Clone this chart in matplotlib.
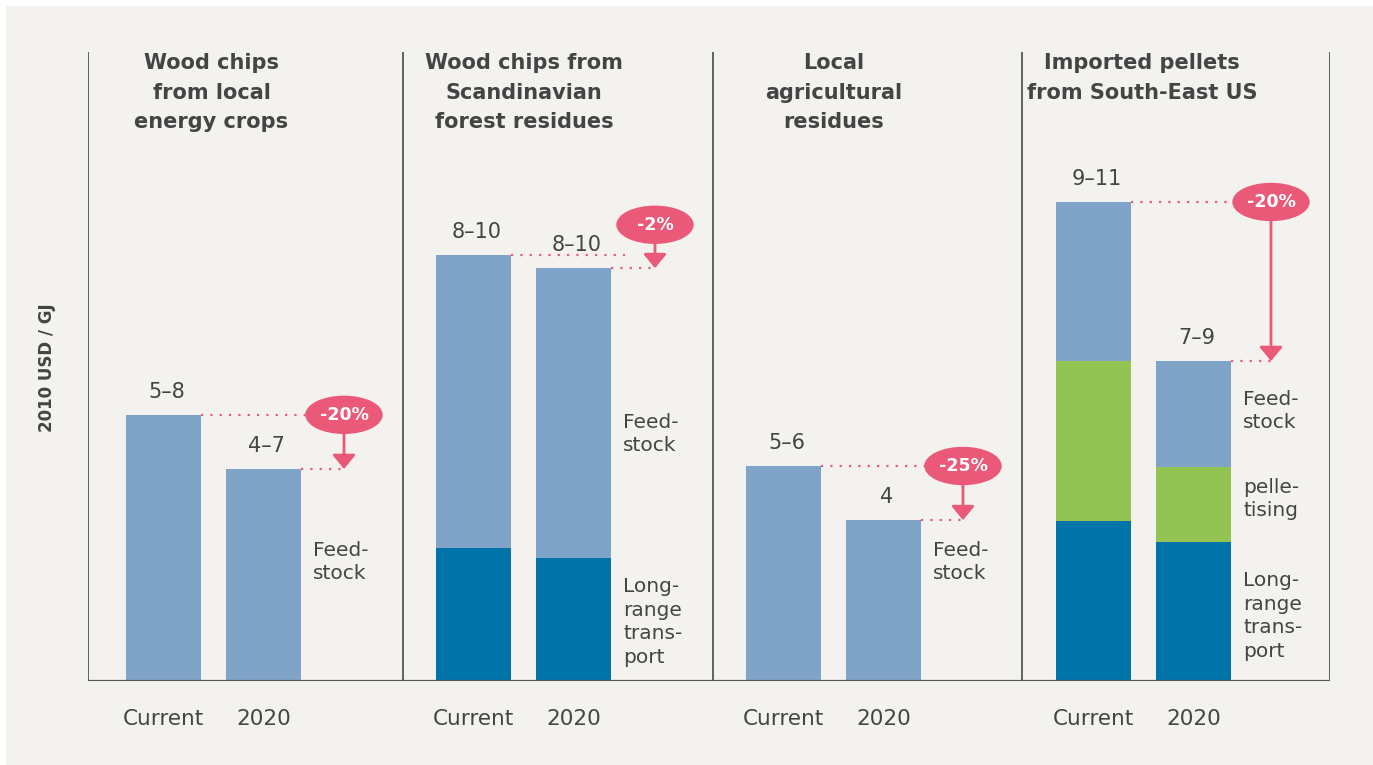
import matplotlib
matplotlib.use("Agg")
import matplotlib.pyplot as plt
from matplotlib.patches import Ellipse, Rectangle

# -----------------------------
# Data (2010 USD/GJ)
# -----------------------------
titles = [
    "Wood chips\nfrom local\nenergy crops",
    "Wood chips from\nScandinavian\nforest residues",
    "Local\nagricultural\nresidues",
    "Imported pellets\nfrom South-East US",
]
bar_labels = ["Current", "2020"]
range_labels = [["5–8", "4–7"], ["8–10", "8–10"], ["5–6", "4"], ["9–11", "7–9"]]
changes = ["-20%", "-2%", "-25%", "-20%"]

# segments stacked bottom -> top: long-range transport, pelletising, feedstock
transport = [[0, 0], [3.09, 2.86], [0, 0], [3.72, 3.23]]
pelletising = [[0, 0], [0, 0], [0, 0], [3.72, 1.74]]
feedstock = [[6.19, 4.93], [6.82, 6.74], [5.0, 3.74], [3.70, 2.47]]

# -----------------------------
# Styling / layout
# -----------------------------
BG = "#f3f2ee"
LIGHT = "#80a4c7"
DARK = "#0073a8"
GREEN = "#92c353"
PINK = "#ea5a78"
TXT = "#444444"
LINE = "#555555"
FONT = "DejaVu Sans"

EDGES = [0, 3.15, 6.25, 9.34, 12.42]   # panel separators (x units)
CUR_OFF = [0.755, 0.705, 0.705, 0.715]  # current bar centre within panel
GAP = 1.0
BW = 0.75
BUB_X = [2.56, 2.52, 2.50, 2.49]
BUB_LIFT = [0, 0.7, 0, 0]

fig = plt.figure(figsize=(13.73, 7.65), dpi=100, facecolor="white")
fig.patches.append(Rectangle((6 / 1373, 0), 1, 1 - 6 / 765, transform=fig.transFigure,
                             facecolor=BG, edgecolor="none", zorder=-10))

ax = fig.add_axes([88 / 1373, 84 / 765, 1242 / 1373, 629 / 765])
ax.set_facecolor("none")
ax.set_xlim(0, EDGES[-1])
ax.set_ylim(0, 629 / 43)
for s in ax.spines.values():
    s.set_visible(False)
ax.set_xticks([])
ax.set_yticks([])

ax.axhline(0, color=LINE, lw=1.6, zorder=5)
for e in EDGES:
    ax.axvline(e, color=LINE, lw=1.3, zorder=5)

for p in range(4):
    x0 = EDGES[p]
    tops = []
    centres = []
    for b in range(2):
        xc = x0 + CUR_OFF[p] + b * GAP
        centres.append(xc)
        t = transport[p][b]
        g = pelletising[p][b]
        f = feedstock[p][b]
        if t:
            ax.bar(xc, t, BW, color=DARK, zorder=2)
        if g:
            ax.bar(xc, g, BW, bottom=t, color=GREEN, zorder=2)
        ax.bar(xc, f, BW, bottom=t + g, color=LIGHT, zorder=2)
        top = t + g + f
        tops.append(top)
        ax.text(xc + 0.03, top + 0.3, range_labels[p][b], ha="center", va="bottom",
                fontsize=15, color=TXT, family=FONT)
        ax.text(xc, -0.88, bar_labels[b], ha="center", va="center",
                fontsize=15.5, color=TXT, family=FONT)

    # title
    xm = (EDGES[p] + EDGES[p + 1]) / 2 - 0.34
    ax.text(xm, 629 / 43 - 0.03, titles[p], ha="center", va="top",
            fontsize=15, fontweight="bold", color=TXT, family=FONT, linespacing=1.6)

    # change annotation
    bx = x0 + BUB_X[p]
    by = tops[0] + BUB_LIFT[p]
    ax.plot([centres[0] + BW / 2, bx - 0.3], [tops[0], tops[0]], color=PINK, lw=1.6,
            linestyle=(0, (1, 3.2)), zorder=3)
    ax.plot([centres[1] + BW / 2, bx], [tops[1], tops[1]], color=PINK, lw=1.6,
            linestyle=(0, (1, 3.2)), zorder=3)
    ax.add_patch(Ellipse((bx, by), 0.76, 0.86, color=PINK, zorder=4))
    ax.text(bx, by, changes[p], ha="center", va="center", fontsize=12.5,
            fontweight="bold", color="white", family=FONT, zorder=5)
    ax.annotate("", xy=(bx, tops[1]), xytext=(bx, by - 0.43),
                arrowprops=dict(arrowstyle="-|>,head_length=0.85,head_width=0.7",
                                color=PINK, lw=2, shrinkA=0, shrinkB=0), zorder=4)

# segment labels
seg_kw = dict(ha="left", va="center", fontsize=14.5, color=TXT, family=FONT, linespacing=1.3)
ax.text(EDGES[0] + 2.25, 2.77, "Feed-\nstock", **seg_kw)
ax.text(EDGES[1] + 2.2, 5.74, "Feed-\nstock", **seg_kw)
ax.text(EDGES[1] + 2.2, 1.37, "Long-\nrange\ntrans-\nport", **seg_kw)
ax.text(EDGES[2] + 2.2, 2.77, "Feed-\nstock", **seg_kw)
ax.text(EDGES[3] + 2.21, 6.28, "Feed-\nstock", **seg_kw)
ax.text(EDGES[3] + 2.21, 4.23, "pelle-\ntising", **seg_kw)
ax.text(EDGES[3] + 2.21, 1.51, "Long-\nrange\ntrans-\nport", **seg_kw)

fig.text(47 / 1373, 1 - 368 / 765, "2010 USD / GJ", rotation=90, ha="center", va="center",
         fontsize=12, fontweight="bold", color=TXT, family=FONT)

fig.savefig("out.png", dpi=100, facecolor=fig.get_facecolor())
